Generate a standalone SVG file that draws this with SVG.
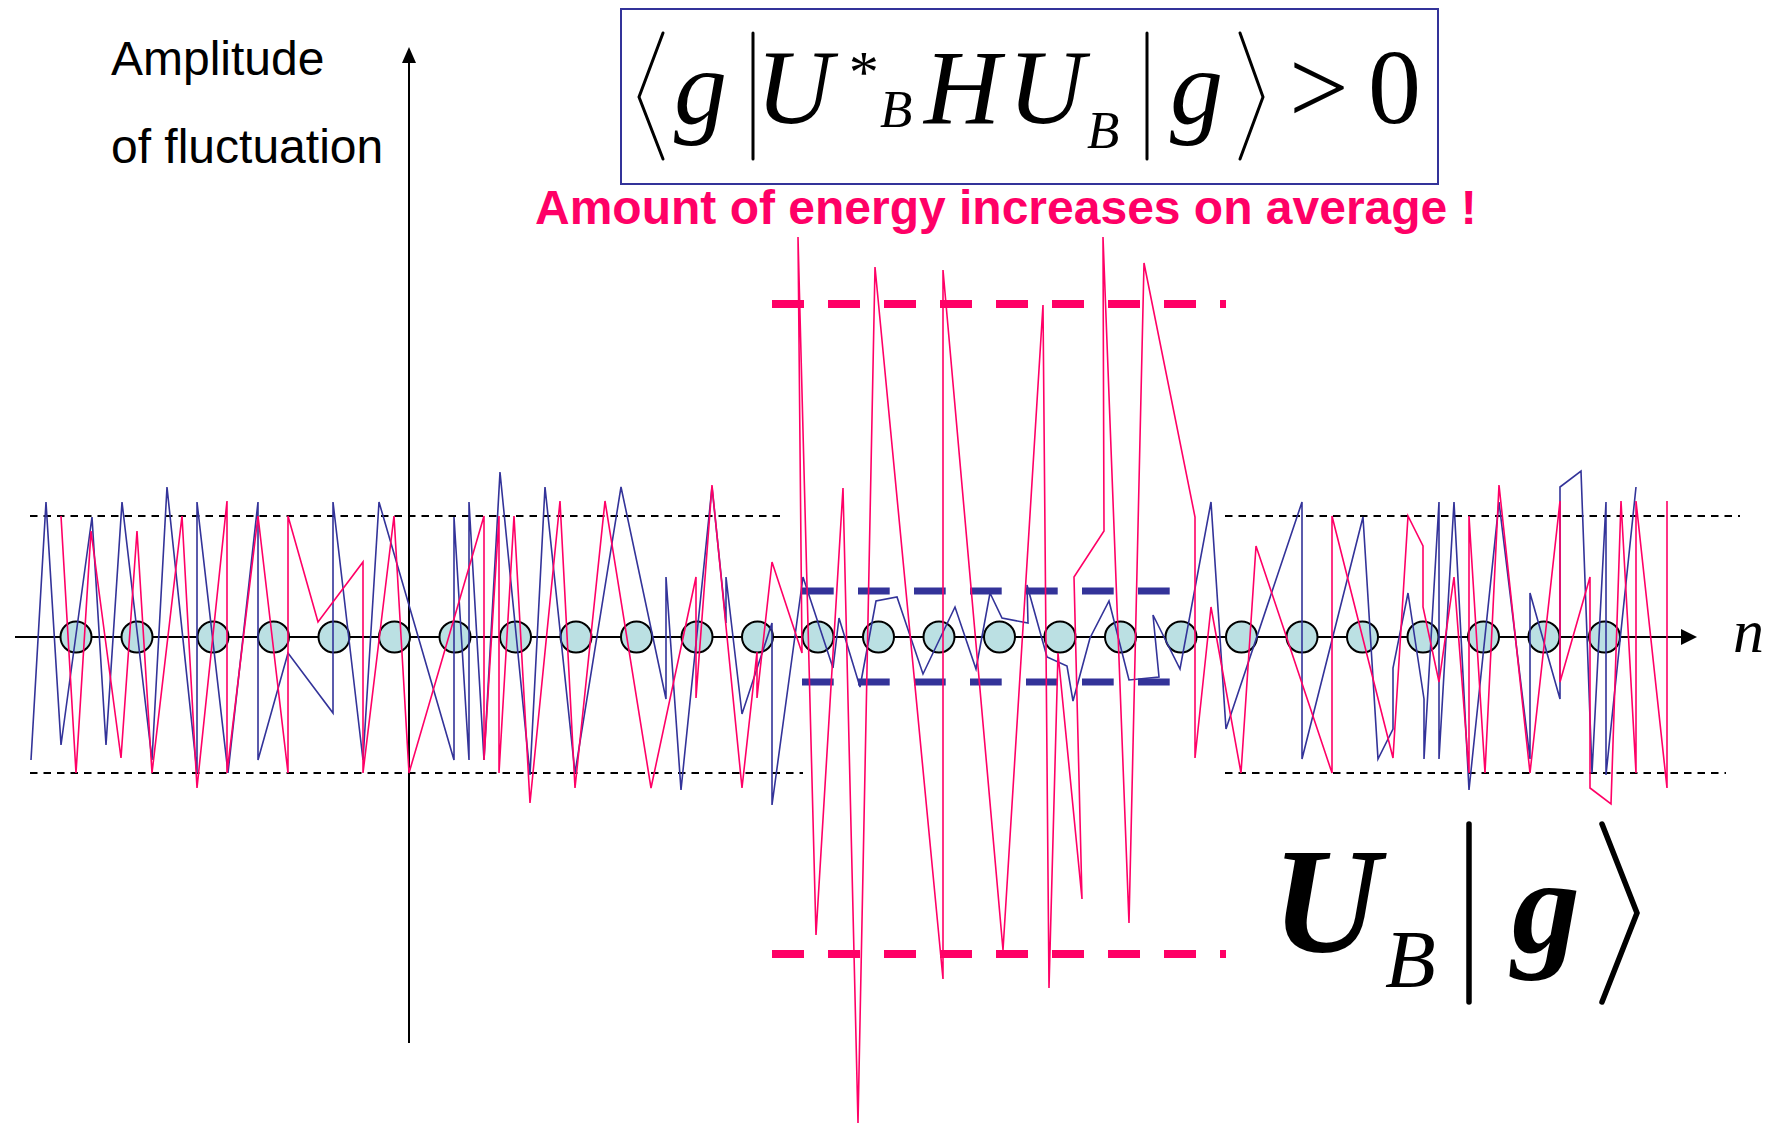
<svg xmlns="http://www.w3.org/2000/svg" width="1774" height="1126" viewBox="0 0 1774 1126">
<style>
.lbl{font-family:"Liberation Sans",Arial,sans-serif;font-size:48px;fill:#000}
.warn{font-family:"Liberation Sans",Arial,sans-serif;font-size:48px;font-weight:bold;fill:#FF0066}
.m{font-family:"Liberation Serif","Times New Roman",serif;font-style:italic;fill:#000}
.r{font-family:"Liberation Serif","Times New Roman",serif;fill:#000}
.blk{stroke:#000;stroke-width:2;stroke-dasharray:7.5 6;fill:none}
.delim{stroke:#000;stroke-width:3;fill:none;stroke-linecap:round;stroke-linejoin:miter}
.delim2{stroke:#000;stroke-width:5.5;fill:none;stroke-linecap:round;stroke-linejoin:miter}
.site{fill:#BBE0E3;stroke:#000;stroke-width:2}
.wave{fill:none;stroke-width:1.6;stroke-linejoin:miter}
</style>
<rect width="1774" height="1126" fill="#fff"/>

<g id="bounds-normal">
<line class="blk" x1="30" y1="516" x2="780" y2="516"/>
<line class="blk" x1="30" y1="773" x2="803" y2="773"/>
<line class="blk" x1="1225" y1="516" x2="1740" y2="516"/>
<line class="blk" x1="1225" y1="773" x2="1726" y2="773"/>
</g>

<g id="axes">
<line x1="409" y1="1043" x2="409" y2="60" stroke="#000" stroke-width="2"/>
<path d="M409,47 L402,63 L416,63 z" fill="#000"/>
<line x1="15" y1="637" x2="1682" y2="637" stroke="#000" stroke-width="2"/>
<path d="M1697,637 L1681,629 L1681,645 z" fill="#000"/>
<text class="m" x="1733" y="652" font-size="62">n</text>
</g>

<g id="axis-label">
<text class="lbl" x="111" y="75">Amplitude</text>
<text class="lbl" x="111" y="163">of fluctuation</text>
</g>

<g id="sites">
<circle class="site" cx="76" cy="637" r="15.5"/>
<circle class="site" cx="137" cy="637" r="15.5"/>
<circle class="site" cx="213" cy="637" r="15.5"/>
<circle class="site" cx="273.5" cy="637" r="15.5"/>
<circle class="site" cx="334" cy="637" r="15.5"/>
<circle class="site" cx="394.5" cy="637" r="15.5"/>
<circle class="site" cx="455" cy="637" r="15.5"/>
<circle class="site" cx="515.5" cy="637" r="15.5"/>
<circle class="site" cx="576" cy="637" r="15.5"/>
<circle class="site" cx="636.5" cy="637" r="15.5"/>
<circle class="site" cx="697" cy="637" r="15.5"/>
<circle class="site" cx="757.5" cy="637" r="15.5"/>
<circle class="site" cx="818" cy="637" r="15.5"/>
<circle class="site" cx="878.5" cy="637" r="15.5"/>
<circle class="site" cx="939" cy="637" r="15.5"/>
<circle class="site" cx="999.5" cy="637" r="15.5"/>
<circle class="site" cx="1060" cy="637" r="15.5"/>
<circle class="site" cx="1120.5" cy="637" r="15.5"/>
<circle class="site" cx="1181" cy="637" r="15.5"/>
<circle class="site" cx="1241.5" cy="637" r="15.5"/>
<circle class="site" cx="1302" cy="637" r="15.5"/>
<circle class="site" cx="1362.5" cy="637" r="15.5"/>
<circle class="site" cx="1423" cy="637" r="15.5"/>
<circle class="site" cx="1483.5" cy="637" r="15.5"/>
<circle class="site" cx="1544" cy="637" r="15.5"/>
<circle class="site" cx="1604.5" cy="637" r="15.5"/>
</g>

<g id="bounds-ground">
<line x1="802" y1="591" x2="1170" y2="591" stroke="#333399" stroke-width="7" stroke-dasharray="31.7 24.3"/>
<line x1="802" y1="682" x2="1170" y2="682" stroke="#333399" stroke-width="7" stroke-dasharray="31.7 24.3"/>
</g>

<g id="connectors">
<polyline id="ground-wave" class="wave" stroke="#333399" points="31,760 46,502 61,745 92,517 106,745 122,502 152,760 167,487 197,773 197,502 228,773 258,502 258,760 288,653 333,713 333,502 363,760 379,502 454,760 454,517 469,760 469,502 484,760 500,472 530,775 545,487 575,773 621,487 666,699 666,577 681,790 712,487 726,623 726,577 742,714 772,623 772,805 803,577 833,668 839,618 860,687 876,601 897,597 923,674 955,607 976,669 990,593 1002,618 1028,623 1027,585 1047,657 1067,666 1073,701 1090,638 1109,601 1129,680 1159,677 1153,615 1180,669 1211,502 1226,729 1302,502 1302,759 1363,517 1378,759 1393,729 1393,668 1408,593 1424,699 1424,759 1439,502 1439,759 1454,502 1469,790 1499,502 1530,759 1530,593 1560,699 1560,487 1581,471 1592,773 1606,502 1606,775 1636,487"/>
<polyline id="excited-wave" class="wave" stroke="#FF0066" points="61,516 76,773 91,531 121,758 137,531 152,773 182,516 197,788 227,501 227,773 258,516 288,773 288,516 318,622 363,562 363,773 394,516 409,773 484,516 484,760 499,516 499,773 514,516 530,803 560,501 575,788 605,501 651,788 696,577 696,698 712,485 742,788 757,652 757,698 772,562 802,653 798,237 816,935 843,488 858,1123 875,267 943,979 943,270 1003,950 1043,305 1049,988 1058,653 1082,899 1074,577 1104,531 1103,237 1129,923 1144,263 1195,517 1195,758 1211,607 1241,773 1256,546 1332,773 1332,516 1393,758 1408,516 1423,546 1423,607 1439,682 1454,577 1469,773 1469,516 1485,773 1499,485 1530,773 1560,501 1560,682 1590,577 1590,788 1611,804 1621,501 1636,773 1636,501 1667,788 1667,501"/>
</g>

<g id="bounds-excited">
<line x1="772" y1="304" x2="1226" y2="304" stroke="#FF0066" stroke-width="8" stroke-dasharray="32 24"/>
<line x1="772" y1="954" x2="1226" y2="954" stroke="#FF0066" stroke-width="8" stroke-dasharray="32 24"/>
</g>

<g id="equation">
<rect x="621" y="9" width="817" height="175" fill="none" stroke="#333399" stroke-width="2"/>
<polyline class="delim" points="663,33 639,97 663,159"/>
<text class="m" x="674" y="123" font-size="106">g</text>
<line class="delim" x1="753" y1="33" x2="753" y2="159"/>
<text class="m" x="756" y="123" font-size="106">U</text>
<text class="m" x="846" y="92" font-size="60">*</text>
<text class="m" x="880" y="127" font-size="53">B</text>
<text class="m" x="924" y="123" font-size="106">H</text>
<text class="m" x="1008" y="123" font-size="106">U</text>
<text class="m" x="1087" y="148" font-size="53">B</text>
<line class="delim" x1="1147" y1="33" x2="1147" y2="159"/>
<text class="m" x="1170" y="123" font-size="106">g</text>
<polyline class="delim" points="1240,33 1263,97 1240,159"/>
<text class="r" x="1289" y="123" font-size="106">&gt;</text>
<text class="r" x="1368" y="123" font-size="106">0</text>
</g>

<g id="caption">
<text class="warn" x="535" y="224">Amount of energy increases on average !</text>
</g>

<g id="state-label">
<text class="m" x="1272" y="952" font-size="150" font-weight="bold">U</text>
<text class="m" x="1385" y="987" font-size="83">B</text>
<line class="delim2" x1="1469" y1="824" x2="1469" y2="1002"/>
<text class="m" x="1512" y="952" font-size="136" font-weight="bold">g</text>
<polyline class="delim2" points="1602,824 1637,913 1602,1002"/>
</g>
</svg>
